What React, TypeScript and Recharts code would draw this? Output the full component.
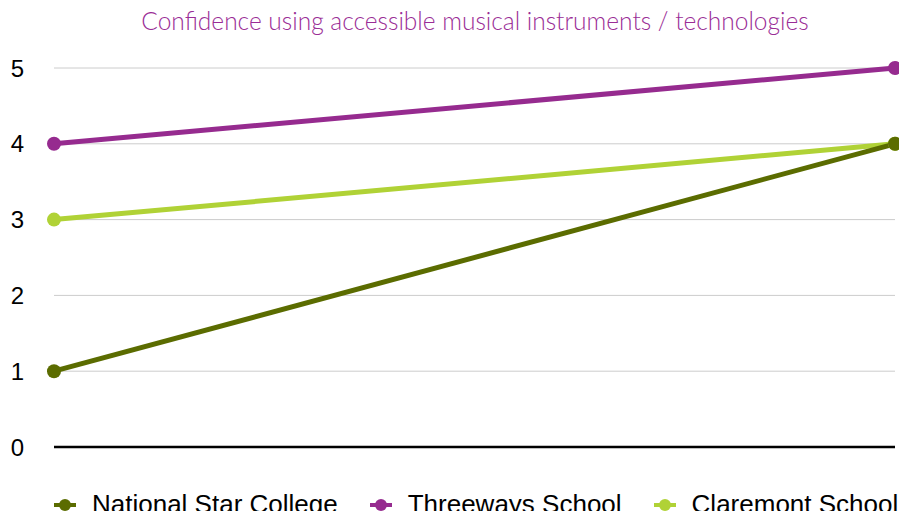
import { LineChart, Line, XAxis, YAxis, CartesianGrid, Legend } from "recharts"

const periods = ["Before", "After"]
const nationalStar = [1, 4]
const threeways = [4, 5]
const claremont = [3, 4]
const yTicks = [0, 1, 2, 3, 4, 5]

const series = [
  { key: "national", name: "National Star College", color: "#5b6c00" },
  { key: "threeways", name: "Threeways School", color: "#962b8f" },
  { key: "claremont", name: "Claremont School", color: "#b0d236" },
]

const data = periods.map((p, i) => ({
  period: p,
  national: nationalStar[i],
  threeways: threeways[i],
  claremont: claremont[i],
}))

function LegendContent() {
  return (
    <div style={{ display: "flex", alignItems: "center", fontFamily: "'Liberation Sans', Arial, sans-serif", fontSize: 26, color: "#000", whiteSpace: "nowrap" }}>
      {series.map((s) => (
        <div key={s.key} style={{ display: "flex", alignItems: "center", marginRight: 32 }}>
          <svg width={22} height={16} style={{ marginRight: 16 }}>
            <line x1={0} y1={8} x2={22} y2={8} stroke={s.color} strokeWidth={4} />
            <circle cx={11} cy={8} r={6} fill={s.color} />
          </svg>
          <span>{s.name}</span>
        </div>
      ))}
    </div>
  )
}

export default function App() {
  return (
    <div style={{ position: "relative", width: 907, height: 519, overflow: "hidden", background: "#fff", margin: -8 }}>
      <div
        style={{
          position: "absolute",
          top: 6,
          left: 0,
          width: 950,
          textAlign: "center",
          fontFamily: "Lato, sans-serif",
          fontWeight: 300,
          fontSize: 24.5,
          color: "#9a2d96",
        }}
      >
        Confidence using accessible musical instruments / technologies
      </div>
      <LineChart width={907} height={519} data={data} margin={{ top: 68, right: 12, left: 0, bottom: 40 }}>
        <CartesianGrid horizontal vertical={false} stroke="#cccccc" strokeWidth={1} />
        <XAxis
          dataKey="period"
          scale="point"
          tick={false}
          tickLine={false}
          axisLine={{ stroke: "#000", strokeWidth: 2.5 }}
          height={1}
        />
        <YAxis
          domain={[0, 5]}
          ticks={yTicks}
          width={54}
          axisLine={false}
          tickLine={false}
          tickSize={0}
          tickMargin={30}
          tick={{ fontSize: 24, fill: "#000", fontFamily: "'Liberation Sans', Arial, sans-serif" }}
        />
        <Legend
          verticalAlign="bottom"
          content={LegendContent}
          wrapperStyle={{ top: 489, left: 54, bottom: "auto", width: "auto" }}
        />
        <Line dataKey="claremont" name="Claremont School" stroke="#b0d236" strokeWidth={5} dot={{ r: 7, fill: "#b0d236", strokeWidth: 0 }} isAnimationActive={false} />
        <Line dataKey="threeways" name="Threeways School" stroke="#962b8f" strokeWidth={5} dot={{ r: 7, fill: "#962b8f", strokeWidth: 0 }} isAnimationActive={false} />
        <Line dataKey="national" name="National Star College" stroke="#5b6c00" strokeWidth={5} dot={{ r: 7, fill: "#5b6c00", strokeWidth: 0 }} isAnimationActive={false} />
      </LineChart>
    </div>
  )
}
